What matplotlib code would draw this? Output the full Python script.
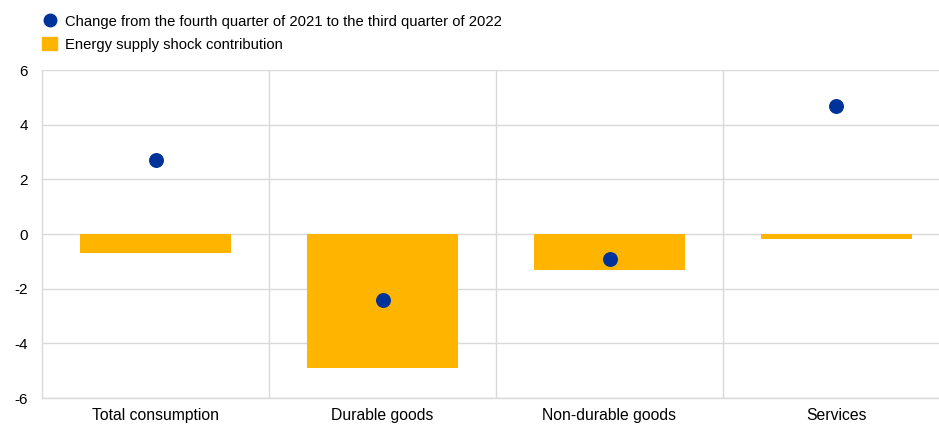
import matplotlib.pyplot as plt
from matplotlib.lines import Line2D
from matplotlib.patches import Patch

plt.rcParams['font.family'] = ['Liberation Sans', 'DejaVu Sans']
plt.rcParams['axes.unicode_minus'] = False

categories = ['Total consumption', 'Durable goods', 'Non-durable goods', 'Services']
change = [2.7, -2.4, -0.9, 4.7]
energy_shock = [-0.7, -4.9, -1.3, -0.2]

blue = '#003299'
orange = '#FFB400'
grid_col = '#d9d9d9'

fig = plt.figure(figsize=(9.39, 4.25), dpi=100)
ax = fig.add_axes([42 / 939, 27 / 425, 908 / 939, 328 / 425])

x = list(range(len(categories)))
ax.bar(x, energy_shock, width=0.665, color=orange, zorder=2)
ax.scatter(x, change, s=95, color=blue, zorder=3)

ax.set_xlim(-0.5, 3.5)
ax.set_ylim(-6, 6)
ax.set_yticks(range(-6, 7, 2))
ax.set_xticks(x, categories)
ax.set_xticks([0.5, 1.5, 2.5], minor=True)
ax.tick_params(axis='both', which='both', length=0, colors='black')
ax.tick_params(axis='x', labelsize=11.3, pad=7.5)
ax.tick_params(axis='y', labelsize=11, pad=10)
ax.grid(axis='y', color=grid_col, linewidth=1, zorder=0)
ax.grid(axis='x', which='minor', color=grid_col, linewidth=1, zorder=0)
for side in ['top', 'right']:
    ax.spines[side].set_visible(False)
for side in ['left', 'bottom']:
    ax.spines[side].set_color(grid_col)
    ax.spines[side].set_linewidth(1)

handles = [
    Line2D([], [], marker='o', linestyle='none', color=blue, markersize=9),
    Patch(color=orange),
]
labels = ['Change from the fourth quarter of 2021 to the third quarter of 2022',
          'Energy supply shock contribution']
fig.legend(handles, labels, loc='upper left', bbox_to_anchor=(0.034, 0.99),
           frameon=False, fontsize=10.6, handlelength=1.0, handleheight=1.0,
           handletextpad=0.55, labelspacing=0.55, borderaxespad=0.3)

fig.savefig('out.png', dpi=100)
